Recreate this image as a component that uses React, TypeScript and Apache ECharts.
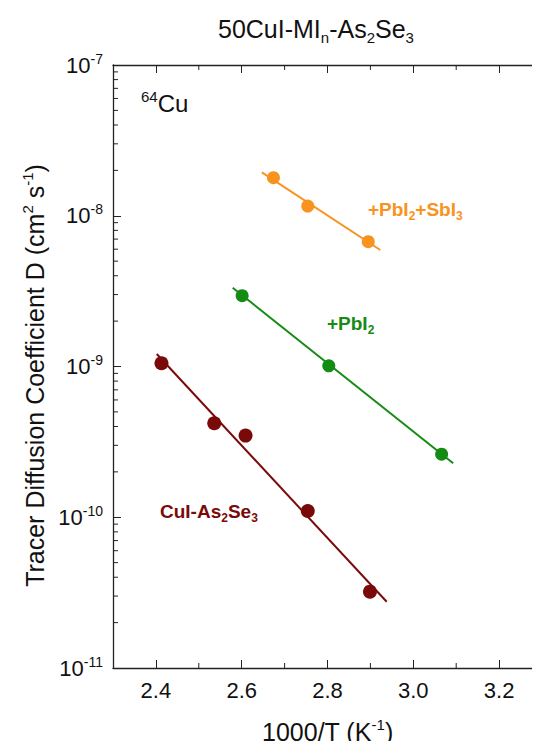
import React, { useEffect, useRef } from "react";
import * as echarts from "echarts";

// ---- Data ----
const orangeX = [2.674, 2.754, 2.895];
const orangeD = [1.79e-8, 1.16e-8, 6.73e-9];
const orangeFitX = [2.647, 2.923];
const orangeFitD = [1.94e-8, 5.93e-9];

const greenX = [2.601, 2.803, 3.066];
const greenD = [2.95e-9, 1.01e-9, 2.62e-10];
const greenFitX = [2.579, 3.093];
const greenFitD = [3.33e-9, 2.28e-10];

const redX = [2.413, 2.536, 2.609, 2.754, 2.899];
const redD = [1.05e-9, 4.2e-10, 3.48e-10, 1.1e-10, 3.21e-11];
const redFitX = [2.402, 2.938];
const redFitD = [1.21e-9, 2.75e-11];

const xMin = 2.3;
const xMax = 3.3;
const yMin = 1e-11;
const yMax = 1e-7;
const xMinorTicks = [2.5, 2.7, 2.9, 3.1];
const yDecades = [1e-11, 1e-10, 1e-9, 1e-8];
const yMultipliers = [2, 3, 4, 5, 6, 7, 8, 9];

const ORANGE = "#F7931E";
const GREEN = "#148C14";
const RED = "#7A0A0A";
const FONT = "Liberation Sans, Arial, sans-serif";
const AXIS = "#222";

const pair = (xs: number[], ys: number[]) => xs.map((x, i) => [x, ys[i]]);

export default function App() {
  const ref = useRef<HTMLDivElement>(null);
  useEffect(() => {
    if (!ref.current) return;
    const chart = echarts.init(ref.current, null, { renderer: "svg" });

    const yMinorVals: number[][] = [];
    yDecades.forEach((d) => yMultipliers.forEach((m) => yMinorVals.push([xMin, d * m])));
    const xMinorVals = xMinorTicks.map((v) => [v, yMin]);

    const tickLine = (x1: number, y1: number, x2: number, y2: number) => ({
      type: "line",
      shape: { x1, y1, x2, y2 },
      style: { stroke: AXIS, lineWidth: 1 },
    });

    const tickRich = {
      b: { fontSize: 22, fontFamily: FONT, color: "#111", lineHeight: 27 },
      e: { fontSize: 14, fontFamily: FONT, color: "#111", verticalAlign: "top", lineHeight: 15 },
    };
    const nameRich = {
      b: { fontSize: 25, fontFamily: FONT, color: "#111", lineHeight: 30 },
      e: { fontSize: 15, fontFamily: FONT, color: "#111", verticalAlign: "top", lineHeight: 16 },
    };

    const labelRich = (color: string) => ({
      b: { fontSize: 19, fontWeight: "bold", fontFamily: FONT, fill: color, lineHeight: 24 },
      s: { fontSize: 12, fontWeight: "bold", fontFamily: FONT, fill: color, verticalAlign: "bottom", lineHeight: 13 },
    });

    const option: any = {
      animation: false,
      backgroundColor: "#fff",
      textStyle: { fontFamily: FONT },
      title: {
        text: "{b|50CuI-MI}{s|n}{b|-As}{s|2}{b|Se}{s|3}",
        left: 213,
        top: 8,
        textStyle: {
          fontWeight: "normal",
          rich: {
            b: { fontSize: 25, fontWeight: "normal", fontFamily: FONT, color: "#111", lineHeight: 32 },
            s: { fontSize: 15, fontWeight: "normal", fontFamily: FONT, color: "#111", verticalAlign: "bottom", lineHeight: 16 },
          },
        },
      },
      grid: { left: 113, top: 65, width: 429, height: 603, outerBoundsMode: "none", containLabel: false },
      xAxis: [
        {
          type: "value",
          min: xMin,
          max: xMax,
          position: "bottom",
          axisLine: { show: true, lineStyle: { color: AXIS, width: 1.3 } },
          axisTick: { show: true, inside: true, length: 8, lineStyle: { color: AXIS } },
          axisLabel: {
            show: true,
            showMinLabel: false,
            showMaxLabel: false,
            fontSize: 22,
            color: "#111",
            fontFamily: FONT,
            margin: 11,
            formatter: (v: number) => v.toFixed(1),
          },
          splitLine: { show: false },
          name: "{b|1000/T (K}{e|-1}{b|)}",
          nameLocation: "middle",
          nameGap: 49,
          nameTextStyle: { rich: nameRich },
        },
        {
          type: "value",
          min: xMin,
          max: xMax,
          position: "top",
          axisLine: { show: true, lineStyle: { color: AXIS, width: 1.3 } },
          axisTick: { show: true, inside: true, length: 8, lineStyle: { color: AXIS } },
          axisLabel: { show: false },
          splitLine: { show: false },
        },
      ],
      yAxis: [
        {
          type: "log",
          logBase: 10,
          min: yMin,
          max: yMax,
          position: "left",
          axisLine: { show: true, lineStyle: { color: AXIS, width: 1.3 } },
          axisTick: { show: true, inside: true, length: 8, lineStyle: { color: AXIS } },
          axisLabel: {
            show: true,
            margin: 10,
            formatter: (v: number) => `{b|10}{e|${Math.round(Math.log10(v))}}`,
            rich: tickRich,
          },
          splitLine: { show: false },
          name: "{b|Tracer Diffusion Coefficient D (cm}{e|2}{b| s}{e|-1}{b|)}",
          nameLocation: "middle",
          nameGap: 58,
          nameRotate: 90,
          nameTextStyle: { rich: nameRich, padding: [0, 18, 0, 0] },
        },
        {
          type: "log",
          logBase: 10,
          min: yMin,
          max: yMax,
          position: "right",
          axisLine: { show: false },
          axisTick: { show: true, inside: true, length: 8, lineStyle: { color: AXIS } },
          axisLabel: { show: false },
          splitLine: { show: false },
        },
      ],
      graphic: [
        {
          type: "text",
          left: 141,
          top: 89,
          style: {
            text: "{e|64}{b|Cu}",
            rich: {
              b: { fontSize: 24, fontFamily: FONT, fill: "#111", lineHeight: 28 },
              e: { fontSize: 15, fontFamily: FONT, fill: "#111", verticalAlign: "top", lineHeight: 15 },
            },
          },
        },
        {
          type: "text",
          left: 368,
          top: 200,
          style: { text: "{b|+PbI}{s|2}{b|+SbI}{s|3}", rich: labelRich(ORANGE) },
        },
        {
          type: "text",
          left: 327,
          top: 314,
          style: { text: "{b|+PbI}{s|2}", rich: labelRich(GREEN) },
        },
        {
          type: "text",
          left: 160,
          top: 502,
          style: { text: "{b|CuI-As}{s|2}{b|Se}{s|3}", rich: labelRich(RED) },
        },
      ],
      series: [
        {
          type: "custom",
          xAxisIndex: 0,
          yAxisIndex: 0,
          data: yMinorVals,
          silent: true,
          renderItem: (params: any, api: any) => {
            const cs = params.coordSys;
            const y = api.coord([api.value(0), api.value(1)])[1];
            return {
              type: "group",
              children: [
                tickLine(cs.x, y, cs.x + 5, y),
                tickLine(cs.x + cs.width - 5, y, cs.x + cs.width, y),
              ],
            };
          },
        },
        {
          type: "custom",
          xAxisIndex: 0,
          yAxisIndex: 0,
          data: xMinorVals,
          silent: true,
          renderItem: (params: any, api: any) => {
            const cs = params.coordSys;
            const x = api.coord([api.value(0), api.value(1)])[0];
            return {
              type: "group",
              children: [
                tickLine(x, cs.y + cs.height, x, cs.y + cs.height - 5),
                tickLine(x, cs.y, x, cs.y + 5),
              ],
            };
          },
        },
        {
          type: "line",
          data: pair(orangeFitX, orangeFitD),
          symbol: "none",
          lineStyle: { color: ORANGE, width: 2 },
        },
        {
          type: "line",
          data: pair(greenFitX, greenFitD),
          symbol: "none",
          lineStyle: { color: GREEN, width: 2 },
        },
        {
          type: "line",
          data: pair(redFitX, redFitD),
          symbol: "none",
          lineStyle: { color: RED, width: 2 },
        },
        {
          type: "scatter",
          data: pair(orangeX, orangeD),
          symbolSize: 13,
          itemStyle: { color: ORANGE, opacity: 1 },
        },
        {
          type: "scatter",
          data: pair(greenX, greenD),
          symbolSize: 13,
          itemStyle: { color: GREEN, opacity: 1 },
        },
        {
          type: "scatter",
          data: pair(redX, redD),
          symbolSize: 14,
          itemStyle: { color: RED, opacity: 1 },
        },
      ],
    };

    chart.setOption(option);
    return () => chart.dispose();
  }, []);

  return <div ref={ref} style={{ width: 540, height: 749, margin: -8 }} />;
}
